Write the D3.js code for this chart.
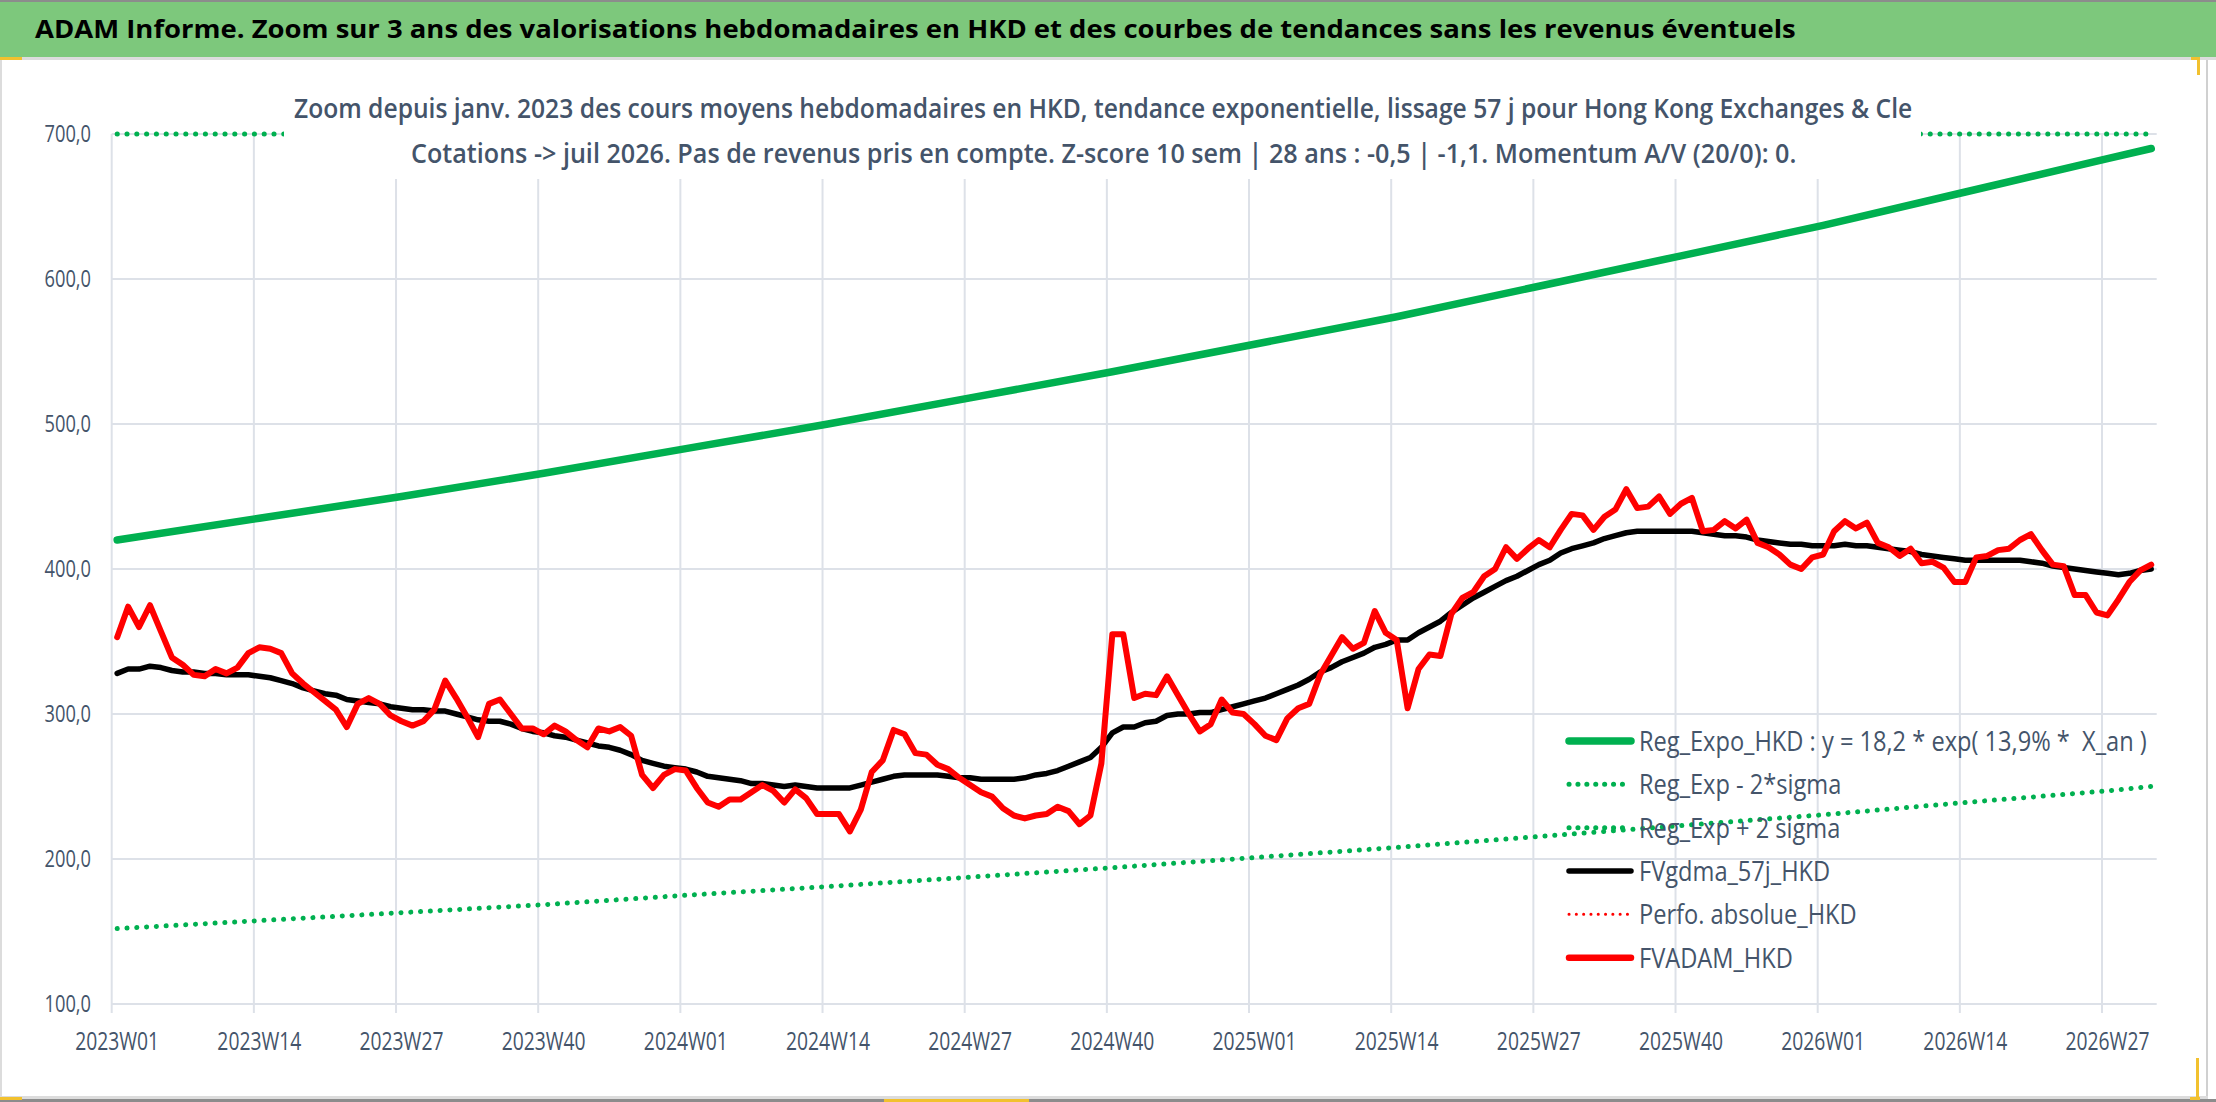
<!DOCTYPE html>
<html>
<head>
<meta charset="utf-8">
<title>ADAM Informe - HKEX</title>
<script src="https://cdn.jsdelivr.net/npm/d3@7"></script>
<style>
  body { margin: 0; background: #fff; }
  svg { display: block; font-family: "Open Sans", sans-serif; }
</style>
</head>
<body>
<script>
// categories : weeks 2023W01 -> 2026W31
var years = [2023, 2024, 2025, 2026];
var weeksPerYear = [52, 52, 52, 31];
var weeks = [];
years.forEach(function(y, k) {
  for (var w = 1; w <= weeksPerYear[k]; w++) weeks.push(y + "W" + (w < 10 ? "0" : "") + w);
});
var tickWeeks = weeks.filter(function(d, i) { return i % 13 == 0; });
var yTicks = [100, 200, 300, 400, 500, 600, 700];

// FVADAM_HKD (red), weekly
var fvAdam = [353,374,360,375,357,339,334,327,326,331,328,332,342,346,345,342,328,321,315,309,
  303,291,307,311,307,299,295,292,295,303,323,311,298,284,307,310,300,290,290,286,
  292,288,282,277,290,288,291,285,258,249,258,262,261,249,239,236,241,241,246,251,
  247,239,248,242,231,231,231,219,234,260,268,289,286,273,272,265,262,256,251,246,
  243,235,230,228,230,231,236,233,224,230,266,355,355,311,314,313,326,313,300,288,
  293,310,301,300,293,285,282,297,304,307,327,340,353,345,349,371,356,351,304,331,
  341,340,369,380,384,395,400,415,407,414,420,415,427,438,437,427,436,441,455,442,
  443,450,438,445,449,426,427,433,428,434,418,415,410,403,400,408,410,426,433,428,
  432,418,415,409,414,404,405,401,391,391,408,409,413,414,420,424,413,403,402,382,
  382,370,368,379,391,399,403];

// FVgdma_57j_HKD (black), weekly
var fvGdma = [328,331,331,333,332,330,329,329,328,328,327,327,327,326,325,323,321,318,316,314,
  313,310,309,308,307,305,304,303,303,302,302,300,298,296,295,295,293,290,288,287,
  285,284,282,280,278,277,275,272,268,266,264,263,262,260,257,256,255,254,252,252,
  251,250,251,250,249,249,249,249,251,253,255,257,258,258,258,258,257,256,256,255,
  255,255,255,256,258,259,261,264,267,270,277,287,291,291,294,295,299,300,300,301,
  301,303,305,307,309,311,314,317,320,324,329,332,336,339,342,346,348,351,351,356,
  360,364,370,375,380,384,388,392,395,399,403,406,411,414,416,418,421,423,425,426,
  426,426,426,426,426,425,424,423,423,422,420,419,418,417,417,416,416,416,417,416,
  416,415,414,413,412,410,409,408,407,406,406,406,406,406,406,405,404,402,401,400,
  399,398,397,396,397,399,400];

// exponential trend and bands, read at the tick weeks (+ last week)
var regIdx  = [0, 13, 26, 39, 52, 65, 78, 91, 104, 117, 130, 143, 156, 169, 182, 186];
var regExpo = [420, 435, 450, 466, 483, 500, 518, 536, 555, 574, 595, 616, 637, 660, 683, 690];
var regLow  = [152, 157.5, 163, 168.5, 175, 181, 187.5, 194, 201, 208, 215.5, 223, 230.5, 239, 247, 250];
// above the axis max : shown along the 700 line
var regHigh = [1160, 1202, 1243, 1287, 1334, 1381, 1431, 1481, 1533, 1586, 1644, 1702, 1760, 1823, 1887, 1906];

var legendItems = ["Reg_Expo_HKD : y = 18,2 * exp( 13,9% *  X_an )", "Reg_Exp - 2*sigma", "Reg_Exp + 2 sigma",
  "FVgdma_57j_HKD", "Perfo. absolue_HKD", "FVADAM_HKD"];

var W = 2216, H = 1102;
var textCol = "#44546A", gridCol = "#DDE1E8";
var svg = d3.select("body").append("svg").attr("width", W).attr("height", H);

// frame + title band
svg.append("rect").attr("x", 0).attr("y", 0).attr("width", W).attr("height", H).attr("fill", "#fff");
svg.append("rect").attr("x", 0).attr("y", 0).attr("width", W).attr("height", 57).attr("fill", "#7DC87C");
svg.append("rect").attr("x", 0).attr("y", 0).attr("width", W).attr("height", 2).attr("fill", "#8C8C8C");
svg.append("rect").attr("x", 0).attr("y", 57).attr("width", W).attr("height", 3).attr("fill", "#DCDCDC");
svg.append("rect").attr("x", 0).attr("y", 60).attr("width", 2).attr("height", 1040).attr("fill", "#DCDCDC");
svg.append("rect").attr("x", 2206).attr("y", 60).attr("width", 2).attr("height", 1040).attr("fill", "#D0D0D0");
svg.append("rect").attr("x", 0).attr("y", 1096).attr("width", 2208).attr("height", 3).attr("fill", "#DCDCDC");
svg.append("rect").attr("x", 0).attr("y", 1099).attr("width", W).attr("height", 3).attr("fill", "#8C8C8C");
// selection handles
var yel = "#F2C12E";
[[0, 57, 22, 3], [2191, 57, 9, 3], [2197, 57, 3, 18], [2196, 1058, 3, 42], [2190, 1097, 10, 3], [0, 1097, 22, 3], [884, 1099, 145, 3]]
  .forEach(function(r) { svg.append("rect").attr("x", r[0]).attr("y", r[1]).attr("width", r[2]).attr("height", r[3]).attr("fill", yel); });

function fitted(parent, str, x, y, size, weight, fill, anchor, target) {
  var t = parent.append("text").text(str).attr("font-size", size).attr("font-weight", weight)
    .attr("fill", fill).attr("text-anchor", anchor).style("white-space", "pre");
  var s = target / t.node().getComputedTextLength();
  t.attr("transform", "translate(" + x + "," + y + ") scale(" + s + ",1)");
  return s;
}

fitted(svg, "ADAM Informe. Zoom sur 3 ans des valorisations hebdomadaires en HKD et des courbes de tendances sans les revenus éventuels",
  35, 38, 25, "bold", "#000", "start", 1762);

// scales
var x = d3.scaleBand().domain(weeks).range([111.7, 2156.7]).padding(0);
var bw = x.bandwidth();
var y = d3.scaleLinear().domain([100, 700]).range([1004, 134]);
var yClamp = y.copy().clamp(true);

var plot = svg.append("g");
// gridlines
plot.selectAll(".hg").data(yTicks).enter().append("line")
  .attr("x1", 111.7).attr("x2", 2156.7)
  .attr("y1", function(d) { return y(d); }).attr("y2", function(d) { return y(d); })
  .attr("stroke", gridCol).attr("stroke-width", 2);
plot.selectAll(".vg").data(tickWeeks).enter().append("line")
  .attr("x1", function(d) { return x(d); }).attr("x2", function(d) { return x(d); })
  .attr("y1", y(700)).attr("y2", 1013)
  .attr("stroke", gridCol).attr("stroke-width", 2);

// axes
var xAxis = svg.append("g").attr("transform", "translate(0," + y(100) + ")")
  .call(d3.axisBottom(x).tickValues(tickWeeks).tickSize(0).tickPadding(28));
xAxis.select(".domain").remove();
xAxis.selectAll("text").attr("font-size", 25).attr("fill", textCol).attr("font-family", "Open Sans");
var sx = 84 / xAxis.select("text").node().getComputedTextLength();
xAxis.selectAll("text").attr("transform", "scale(" + sx + ",1)");

var yAxis = svg.append("g").attr("transform", "translate(91,0)")
  .call(d3.axisLeft(y).tickValues(yTicks).tickSize(0)
    .tickFormat(function(d) { return d3.format(".1f")(d).replace(".", ","); }));
yAxis.select(".domain").remove();
yAxis.selectAll("text").attr("font-size", 23.5).attr("fill", textCol).attr("font-family", "Open Sans").attr("x", 0);
var sy = 46.5 / yAxis.select("text").node().getComputedTextLength();
yAxis.selectAll("text").attr("transform", "scale(" + sy + ",1)");

// series
function cx(i) { return x(weeks[i]) + bw / 2; }
var lineW = d3.line().x(function(d, i) { return cx(i); }).y(function(d) { return y(d); });
var lineR = function(vals, sc) {
  return d3.line().x(function(d, k) { return cx(regIdx[k]); }).y(function(d) { return sc(d); })(vals);
};
var dotted = "0.1 9.7";
plot.append("path").attr("d", lineR(regLow, y)).attr("fill", "none")
  .attr("stroke", "#00B050").attr("stroke-width", 5).attr("stroke-linecap", "round").attr("stroke-dasharray", dotted);
plot.append("path").attr("d", lineR(regHigh, yClamp)).attr("fill", "none")
  .attr("stroke", "#00B050").attr("stroke-width", 5).attr("stroke-linecap", "round").attr("stroke-dasharray", dotted);
plot.append("path").attr("d", lineR(regExpo, y)).attr("fill", "none")
  .attr("stroke", "#00B050").attr("stroke-width", 7.5).attr("stroke-linecap", "round").attr("stroke-linejoin", "round");
plot.append("path").attr("d", lineW(fvGdma)).attr("fill", "none")
  .attr("stroke", "#000").attr("stroke-width", 5.5).attr("stroke-linecap", "round").attr("stroke-linejoin", "round");
plot.append("path").attr("d", lineW(fvAdam)).attr("fill", "none")
  .attr("stroke", "#FF0000").attr("stroke-width", 6).attr("stroke-linecap", "round").attr("stroke-linejoin", "round");

// chart subtitle (white box over the plot top)
svg.append("rect").attr("x", 284).attr("y", 62).attr("width", 1637).attr("height", 117).attr("fill", "#fff");
fitted(svg, "Zoom depuis janv. 2023 des cours moyens hebdomadaires en HKD, tendance exponentielle, lissage 57 j pour Hong Kong Exchanges & Cle",
  294, 118, 27.5, 600, textCol, "start", 1619);
fitted(svg, "Cotations -> juil 2026. Pas de revenus pris en compte. Z-score 10 sem | 28 ans : -0,5 | -1,1. Momentum A/V (20/0): 0.",
  411, 163, 27.5, 600, textCol, "start", 1386);

// legend
var lg = svg.append("g");
var legY = [741, 784.3, 827.8, 871, 914.3, 957.7];
var legStyle = [
  { c: "#00B050", w: 7.5, d: null },
  { c: "#00B050", w: 5, d: "0.1 8.8" },
  { c: "#00B050", w: 5, d: "0.1 8.8" },
  { c: "#000", w: 5.5, d: null },
  { c: "#FF0000", w: 3, d: "0.1 7.2" },
  { c: "#FF0000", w: 6.5, d: null }
];
legendItems.forEach(function(name, k) {
  var st = legStyle[k];
  var l = lg.append("line").attr("x1", 1569).attr("x2", 1631).attr("y1", legY[k]).attr("y2", legY[k])
    .attr("stroke", st.c).attr("stroke-width", st.w).attr("stroke-linecap", "round");
  if (st.d) l.attr("stroke-dasharray", st.d);
});
var lsc = fitted(lg, legendItems[0], 1639, legY[0] + 10, 28, "normal", textCol, "start", 508);
legendItems.slice(1).forEach(function(name, k) {
  lg.append("text").text(name).attr("font-size", 28).attr("fill", textCol).style("white-space", "pre")
    .attr("transform", "translate(1639," + (legY[k + 1] + 10) + ") scale(" + lsc + ",1)");
});
</script>
</body>
</html>
